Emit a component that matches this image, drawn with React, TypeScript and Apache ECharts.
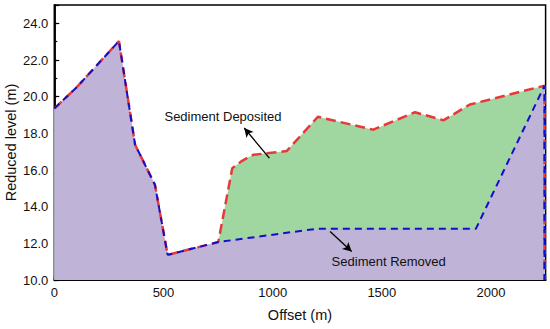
import React, { useEffect, useRef } from "react";
import * as echarts from "echarts";

// Surface profiles: [offset (m), reduced level (m)]
const surfaceAfter: [number, number][] = [
  [0, 19.35], [104, 20.53], [296, 23.03], [370, 17.38], [461, 15.19], [519, 11.37],
  [751, 12.07], [815, 16.1], [860, 16.5], [911, 16.83], [1064, 17.03], [1207, 18.9],
  [1461, 18.2], [1652, 19.15], [1782, 18.71], [1903, 19.57], [2245, 20.6], [2245, 10.0],
];
const surfaceBefore: [number, number][] = [
  [0, 19.35], [104, 20.53], [296, 23.03], [370, 17.38], [461, 15.19], [519, 11.37],
  [751, 12.07], [1205, 12.8], [1931, 12.8], [2245, 20.6], [2245, 10.0],
];

const annotationTexts = ["Sediment Deposited", "Sediment Removed"];
// arrows in data coordinates: [from, to]
const arrowDeposited: [number, number][] = [[985, 16.65], [870, 18.29]];
const arrowRemoved: [number, number][] = [[1263, 12.64], [1362, 11.55]];

const xTicksMajor = [0, 500, 1000, 1500, 2000];
const yTicksMajor = [10, 12, 14, 16, 18, 20, 22, 24];

const FONT = "'Liberation Sans', Arial, sans-serif";

export default function App() {
  const ref = useRef<HTMLDivElement>(null);
  useEffect(() => {
    if (!ref.current) return;
    const chart = echarts.init(ref.current, undefined, { renderer: "svg" });
    const axisLine = { show: true, lineStyle: { color: "#000", width: 1.5 } };
    const baseX = {
      type: "value" as const,
      min: 0,
      max: 2250,
      position: "bottom" as const,
      splitLine: { show: false },
      axisLine,
    };
    const baseY = {
      type: "value" as const,
      min: 10,
      max: 25,
      position: "left" as const,
      splitLine: { show: false },
      axisLine,
    };
    chart.setOption({
      animation: false,
      backgroundColor: "#fff",
      grid: {
        left: 54.3,
        right: 4.4,
        top: 5,
        bottom: 49,
        containLabel: false,
        outerBoundsMode: "none",
        show: true,
        borderColor: "#000",
        borderWidth: 1.5,
        backgroundColor: "transparent",
      },
      xAxis: [
        {
          ...baseX,
          interval: 250,
          name: "Offset (m)",
          nameLocation: "middle",
          nameGap: 27,
          nameMoveOverlap: false,
          nameTextStyle: { fontSize: 14.5, color: "#111", fontFamily: FONT },
          axisTick: { inside: true, length: 3, lineStyle: { color: "#000", width: 1.2 } },
          axisLabel: {
            margin: 6,
            fontSize: 13,
            color: "#111",
            fontFamily: FONT,
            showMaxLabel: false,
            formatter: (v: number) => (xTicksMajor.includes(v) ? String(v) : ""),
          },
        },
        {
          ...baseX,
          interval: 500,
          axisTick: { inside: true, length: 5, lineStyle: { color: "#000", width: 1.2 } },
          axisLabel: { show: false },
        },
      ],
      yAxis: [
        {
          ...baseY,
          interval: 1,
          name: "Reduced level (m)",
          nameLocation: "middle",
          nameGap: 36,
          nameMoveOverlap: false,
          nameTextStyle: { fontSize: 14.5, color: "#111", fontFamily: FONT },
          axisTick: { inside: true, length: 3, lineStyle: { color: "#000", width: 1.2 } },
          axisLabel: {
            margin: 6,
            fontSize: 13,
            color: "#111",
            fontFamily: FONT,
            showMaxLabel: false,
            formatter: (v: number) => (yTicksMajor.includes(v) ? v.toFixed(1) : ""),
          },
        },
        {
          ...baseY,
          interval: 2,
          axisTick: { inside: true, length: 5, lineStyle: { color: "#000", width: 1.2 } },
          axisLabel: { show: false },
        },
      ],
      graphic: [
        {
          type: "text",
          x: 223,
          y: 116.7,
          z: 100,
          style: {
            text: annotationTexts[0],
            fill: "#111",
            fontSize: 13,
            fontFamily: FONT,
            align: "center",
            verticalAlign: "middle",
          },
        },
        {
          type: "text",
          x: 388.7,
          y: 261.7,
          z: 100,
          style: {
            text: annotationTexts[1],
            fill: "#111",
            fontSize: 13,
            fontFamily: FONT,
            align: "center",
            verticalAlign: "middle",
          },
        },
      ],
      series: [
        {
          type: "line",
          data: surfaceAfter,
          showSymbol: false,
          symbol: "none",
          lineStyle: { opacity: 0 },
          areaStyle: { color: "#a0d6a0", opacity: 1, origin: "start" },
          z: 1,
          silent: true,
        },
        {
          type: "line",
          data: surfaceBefore,
          showSymbol: false,
          symbol: "none",
          lineStyle: { opacity: 0 },
          areaStyle: { color: "#bfb3d8", opacity: 1, origin: "start" },
          z: 2,
          silent: true,
        },
        {
          type: "line",
          data: surfaceAfter,
          showSymbol: false,
          symbol: "none",
          lineStyle: { color: "#e8383c", width: 2.5, type: [10, 5] },
          z: 3,
          silent: true,
        },
        {
          type: "line",
          data: surfaceBefore,
          showSymbol: false,
          symbol: "none",
          lineStyle: { color: "#1010c8", width: 2, type: [7, 5] },
          z: 4,
          silent: true,
          markLine: {
            silent: true,
            symbol: ["none", "arrow"],
            symbolSize: [7, 9],
            label: { show: false },
            lineStyle: { color: "#000", width: 1.3, type: "solid" },
            data: [
              [{ coord: arrowDeposited[0] }, { coord: arrowDeposited[1] }],
              [{ coord: arrowRemoved[0] }, { coord: arrowRemoved[1] }],
            ],
          },
        },
      ],
    });
    return () => chart.dispose();
  }, []);
  return (
    <div
      ref={ref}
      style={{ position: "fixed", left: 0, top: 0, width: 550, height: 329 }}
    />
  );
}
